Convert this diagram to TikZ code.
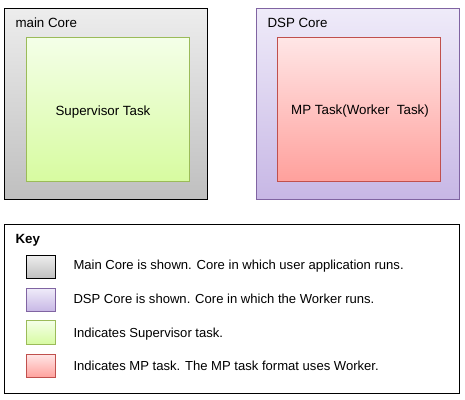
\documentclass[tikz,border=0pt]{standalone}
\usepackage{fontspec}
\setmainfont{Liberation Sans}
\definecolor{grayT}{HTML}{EDEDED}
\definecolor{grayB}{HTML}{BFBFBF}
\definecolor{greenT}{HTML}{F4FFE8}
\definecolor{greenB}{HTML}{D7FBA0}
\definecolor{greenD}{HTML}{9BBB59}
\definecolor{purpT}{HTML}{EFEBF9}
\definecolor{purpB}{HTML}{C7B7E5}
\definecolor{purpD}{HTML}{8064A2}
\definecolor{redT}{HTML}{FFE6E6}
\definecolor{redB}{HTML}{FFA09C}
\definecolor{redD}{HTML}{C0504D}
\tikzset{
  graybox/.style={draw=black, top color=grayT, bottom color=grayB},
  greenbox/.style={draw=greenD, top color=greenT, bottom color=greenB},
  purpbox/.style={draw=purpD, top color=purpT, bottom color=purpB},
  redbox/.style={draw=redD, top color=redT, bottom color=redB},
  lbl/.style={inner sep=0pt, font=\fontsize{10pt}{12pt}\selectfont},
  keytext/.style={inner sep=0pt, anchor=base west, font=\fontsize{9.8pt}{12pt}\selectfont},
}
\begin{document}
\begin{tikzpicture}[x=0.75pt, y=-0.75pt, line width=0.75pt]
\useasboundingbox[fill=white] (0,0) rectangle (465,400);
% main core
\draw[graybox] (4.5,8.5) rectangle (207.5,199.5);
\draw[greenbox] (26.5,37.5) rectangle (189.5,181.5);
\node[lbl, anchor=base west] (mainlbl) at (15,27) {main Core};
\node[lbl, anchor=base] (suplbl) at (103,115) {Supervisor Task};
% DSP core
\draw[purpbox] (256.5,8.5) rectangle (459.5,199.5);
\draw[redbox] (277.5,37.5) rectangle (440.5,181.5);
\node[lbl, anchor=base west] (dsplbl) at (267,27) {DSP Core};
\node[lbl, anchor=base] (mplbl) at (360,114) {MP Task(Worker\ \ Task)};
% key
\draw[black] (4.5,224.5) rectangle (459.5,393.5);
\node[lbl, anchor=base west, font=\fontsize{10pt}{12pt}\selectfont\bfseries] (keylbl) at (15,243) {Key};
\draw[graybox] (26.5,255.5) rectangle (55.5,278.5);
\draw[purpbox] (26.5,288.5) rectangle (55.5,311.5);
\draw[greenbox] (26.5,320.5) rectangle (55.5,344.5);
\draw[redbox] (26.5,354.5) rectangle (55.5,377.5);
\node[keytext] (k1) at (73,269) {Main Core is shown. Core in which user application runs.};
\node[keytext] (k2) at (73,303) {DSP Core is shown. Core in which the Worker runs.};
\node[keytext] (k3) at (73,337) {Indicates Supervisor task.};
\node[keytext] (k4) at (73,370) {Indicates MP task. The MP task format uses Worker.};
\end{tikzpicture}
\end{document}
